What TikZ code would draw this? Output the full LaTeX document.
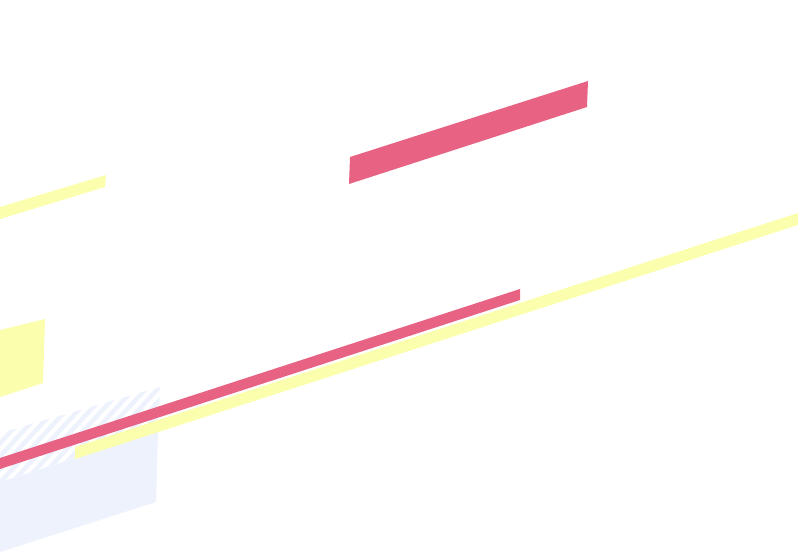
\documentclass[tikz,border=0pt]{standalone}
\begin{document}
\begin{tikzpicture}[x=1pt,y=-1pt]
\definecolor{rd}{HTML}{E86284}
\definecolor{yl}{HTML}{FBFFAD}
\definecolor{bl}{HTML}{EDF2FD}
\useasboundingbox (0,0) rectangle (798,553);
\fill[bl] (0,482)--(158,432)--(156,502)--(0,552)--cycle;
\begin{scope}
\clip (0,433)--(160,387)--(158,432)--(0,482)--cycle;
\foreach \i in {-100,-88,...,200} \draw[bl,line width=4.5pt] (\i,500)--(\i+110,380);
\end{scope}
\fill[yl] (0,330)--(45,319)--(43,383)--(0,397)--cycle;
\fill[yl] (0,207)--(106,175)--(105,187)--(0,219)--cycle;
\fill[yl] (75,447)--(798,213)--(798,225)--(75,459)--cycle;
\fill[rd] (0,458)--(520,289)--(520,300)--(0,469)--cycle;
\fill[rd] (350,157)--(588,81)--(587,107)--(349,184)--cycle;
\end{tikzpicture}
\end{document}
